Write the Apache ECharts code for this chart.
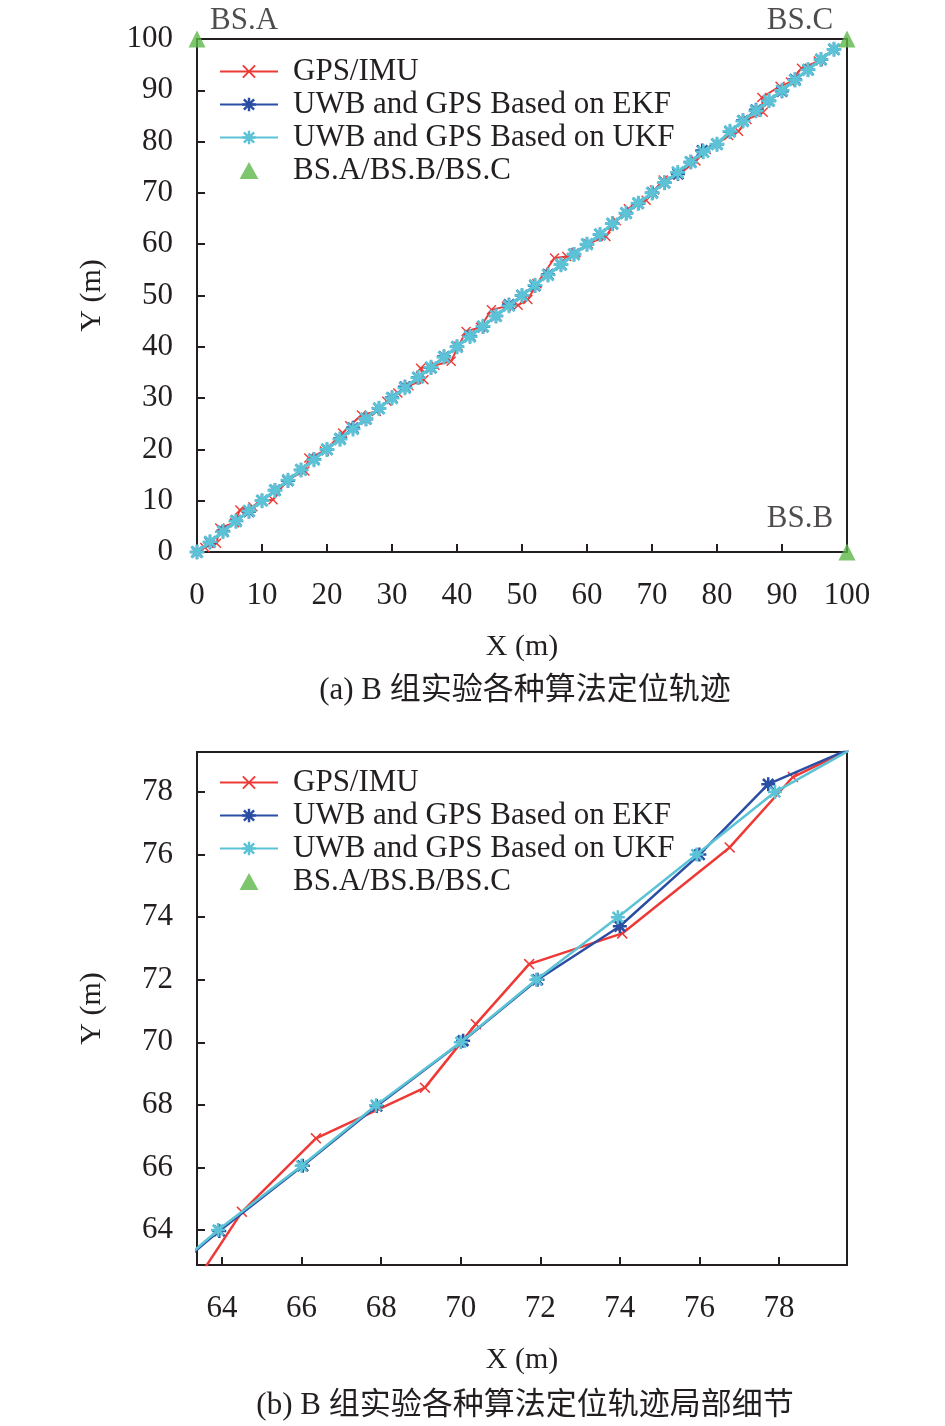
<!DOCTYPE html>
<html>
<head>
<meta charset="utf-8">
<script src="https://cdn.jsdelivr.net/npm/echarts@6/dist/echarts.min.js"></script>
<style>
  html, body { margin: 0; padding: 0; background: #fff; }
  #main { width: 945px; height: 1426px; }
</style>
</head>
<body>
<div id="main"></div>
<script>
// 图例 / 系列名称
const seriesNames = ['GPS/IMU', 'UWB and GPS Based on EKF', 'UWB and GPS Based on UKF', 'BS.A/BS.B/BS.C'];
const captions = ['(a) B 组实验各种算法定位轨迹', '(b) B 组实验各种算法定位轨迹局部细节'];

// 基站
const bsNames = ['BS.A', 'BS.B', 'BS.C'];
const bsPoints = [[0, 100], [100, 0], [100, 100]];

// GPS/IMU 轨迹 [x, y]
const gpsImu = [
  [0, 0], [1.2, 0.9], [3.0, 1.7], [3.5, 4.7], [5.8, 5.7], [6.6, 8.2], [8.6, 8.8], [10, 10],
  [11.7, 10.2], [13.8, 14.0], [16.6, 15.8], [17.2, 18.3], [19.6, 19.7], [22.4, 23.2], [23.5, 24.6],
  [25.3, 26.7], [27.6, 27.4], [29.2, 29.4], [30.9, 31.0], [32.6, 32.4], [34.9, 33.6], [34.4, 35.8],
  [36.6, 36.4], [39.1, 37.2], [40.2, 40.1], [41.4, 43.0], [43.6, 43.8], [45.3, 47.2], [47.6, 47.9],
  [49.4, 48.1], [50.9, 49.2], [52.3, 52.3], [55.0, 57.3], [56.9, 57.6], [58.3, 58.4], [60.2, 60.1],
  [62.9, 61.5], [64.5, 64.58], [66.36, 66.93], [69.1, 68.55], [70.38, 70.58], [71.72, 72.5],
  [74.06, 73.48], [76.76, 76.23], [78.35, 78.48], [80, 79.5], [81.8, 81.2], [83.3, 82.0],
  [84.6, 84.3], [87.1, 85.7], [86.9, 88.6], [89.7, 90.8], [91.3, 91.6], [93.0, 94.3], [95.6, 95.7],
  [98, 98]
];

// EKF 轨迹
const ekf = [
  [0, 0], [2, 1.9], [4, 4.1], [6, 6.1], [8, 7.9], [10, 10], [12, 12.1], [14, 13.9], [16, 16],
  [18, 18.1], [20, 20], [22, 22.1], [24, 24.2], [26, 25.9], [28, 28], [30, 30.1], [32, 32.2],
  [34, 34], [36, 35.9], [38, 38.1], [40, 40], [42, 42.1], [44, 43.9], [46, 46], [48, 48.2],
  [50, 50], [52, 51.9], [54, 54.1], [56, 56], [58, 58.1], [60, 60], [62, 61.9], [63.93, 63.97],
  [66.03, 66.05], [67.89, 67.96], [70.06, 70.05], [71.93, 72.0], [74.0, 73.71], [76, 76],
  [77.73, 78.25], [80, 79.5], [82, 81.9], [84, 84.1], [86, 86.2], [88, 87.9], [90, 89.8],
  [92, 92.1], [94, 94], [96, 96], [98, 98]
];

// UKF 轨迹
const ukf = [
  [0, 0], [2, 2], [4, 4], [6, 6], [8, 8], [10, 10], [12, 12], [14, 14], [16, 16], [18, 18],
  [20, 20], [22, 22], [24, 24], [26, 26], [28, 28], [30, 30], [32, 32], [34, 34], [36, 36],
  [38, 38], [40, 40], [42, 42], [44, 44], [46, 46], [48, 48], [50, 50], [52, 52], [54, 54],
  [56, 56], [58, 58], [60, 60], [62, 61.9], [63.9, 64.0], [66.0, 66.05], [67.87, 67.99],
  [70, 70], [71.9, 72], [73.95, 74.0], [75.93, 76.0], [77.9, 78.0], [80, 79.5], [82, 82],
  [84, 84], [86, 86], [88, 88], [90, 90], [92, 92], [94, 94], [96, 96], [98, 98]
];

// 坐标范围
const fullRange = { xMin: 0, xMax: 100, yMin: 0, yMax: 100, step: 10 };
const zoomRange = { xMin: 63.37, xMax: 79.71, yMin: 62.88, yMax: 79.28, step: 2 };

const font = "'Liberation Serif', 'Noto Sans CJK SC', serif";
const ink = '#231f20';
const RED = '#ee3a36', BLUE = '#2b4ea5', CYAN = '#5bc3d5', GREEN = '#5db848';
const CROSS = 'path://M1,0L5,4L9,0L10,1L6,5L10,9L9,10L5,6L1,10L0,9L4,5L0,1Z';
const STAR = 'path://M4.1,0H5.9V10H4.1ZM0,4.1H10V5.9H0ZM0.6,1.9L1.9,0.6L9.4,8.1L8.1,9.4ZM8.1,0.6L9.4,1.9L1.9,9.4L0.6,8.1Z';
const TRI = 'path://M5,0L10,9L0,9Z';

function axis(r, name, gap, isY, zoomed) {
  const a = {
    type: 'value',
    min: isY ? r.yMin : r.xMin,
    max: isY ? r.yMax : r.xMax,
    name: name,
    nameLocation: 'middle',
    nameGap: gap,
    nameTextStyle: { fontSize: 30, fontFamily: font, color: ink },
    axisLine: { show: true, lineStyle: { color: ink, width: 2 } },
    axisTick: { show: true, inside: true, length: 8, lineStyle: { color: ink, width: 2 } },
    axisLabel: { fontSize: 31, fontFamily: font, color: ink, margin: isY ? 24 : 28 },
    splitLine: { show: false }
  };
  if (zoomed) {
    a.splitNumber = 8;
    a.minInterval = r.step;
    a.maxInterval = r.step;
    a.axisLabel.showMinLabel = false;
    a.axisLabel.showMaxLabel = false;
  } else {
    a.interval = r.step;
  }
  return a;
}

function trackSeries(gi, big) {
  return [
    {
      name: seriesNames[0], type: 'line', xAxisIndex: gi, yAxisIndex: gi, data: gpsImu,
      symbol: CROSS, symbolSize: big ? 11 : 10, clip: true,
      itemStyle: { color: RED }, lineStyle: { color: RED, width: big ? 2.5 : 2 }, z: 2
    },
    {
      name: seriesNames[1], type: 'line', xAxisIndex: gi, yAxisIndex: gi, data: ekf,
      symbol: STAR, symbolSize: big ? 14 : 14, clip: true,
      itemStyle: { color: BLUE }, lineStyle: { color: BLUE, width: big ? 2.5 : 2 }, z: 3
    },
    {
      name: seriesNames[2], type: 'line', xAxisIndex: gi, yAxisIndex: gi, data: ukf,
      symbol: STAR, symbolSize: big ? 14 : 15, clip: true,
      itemStyle: { color: CYAN }, lineStyle: { color: CYAN, width: big ? 2.5 : 3 }, z: 4
    }
  ];
}

const bsLabelOffsets = [[47, -18], [-47, -33], [-47, -18]];

function legend(top) {
  return {
    top: top, left: 214, orient: 'vertical',
    itemWidth: 58, itemHeight: 17, itemGap: 0, symbolKeepAspect: true,
    textStyle: { fontSize: 31, fontFamily: font, color: ink, lineHeight: 33, padding: [0, 0, 0, 10] },
    data: seriesNames.map((n, i) => (i === 3 ? { name: n, icon: TRI } : n))
  };
}

const myChart = echarts.init(document.getElementById('main'), null, { renderer: 'canvas' });

const option = {
  backgroundColor: '#fff',
  animation: false,
  title: captions.map((t, i) => ({
    text: t, left: 520, top: i === 0 ? 670 : 1385, textAlign: 'center',
    textStyle: { fontSize: 31, fontWeight: 'normal', fontFamily: font, color: ink }
  })),
  legend: [legend(50), legend(761)],
  grid: [
    { left: 197, top: 39, width: 650, height: 513, show: true, borderColor: ink, borderWidth: 2 },
    { left: 197, top: 752, width: 650, height: 513, show: true, borderColor: ink, borderWidth: 2 }
  ],
  xAxis: [
    Object.assign(axis(fullRange, 'X (m)', 80, false, false), { gridIndex: 0 }),
    Object.assign(axis(zoomRange, 'X (m)', 80, false, true), { gridIndex: 1 })
  ],
  yAxis: [
    Object.assign(axis(fullRange, 'Y (m)', 90, true, false), { gridIndex: 0 }),
    Object.assign(axis(zoomRange, 'Y (m)', 90, true, true), { gridIndex: 1 })
  ],
  series: [
    ...trackSeries(0, false),
    ...trackSeries(1, true),
    {
      name: seriesNames[3], type: 'scatter', xAxisIndex: 0, yAxisIndex: 0,
      symbol: 'triangle', symbolSize: 17, clip: false, z: 5,
      itemStyle: { color: GREEN },
      data: bsPoints.map((p, i) => ({
        name: bsNames[i], value: p,
        label: { offset: bsLabelOffsets[i] }
      })),
      label: {
        show: true, position: 'inside', formatter: '{b}',
        fontSize: 31, fontFamily: font, color: ink
      }
    }
  ]
};

myChart.setOption(option);
</script>
</body>
</html>
